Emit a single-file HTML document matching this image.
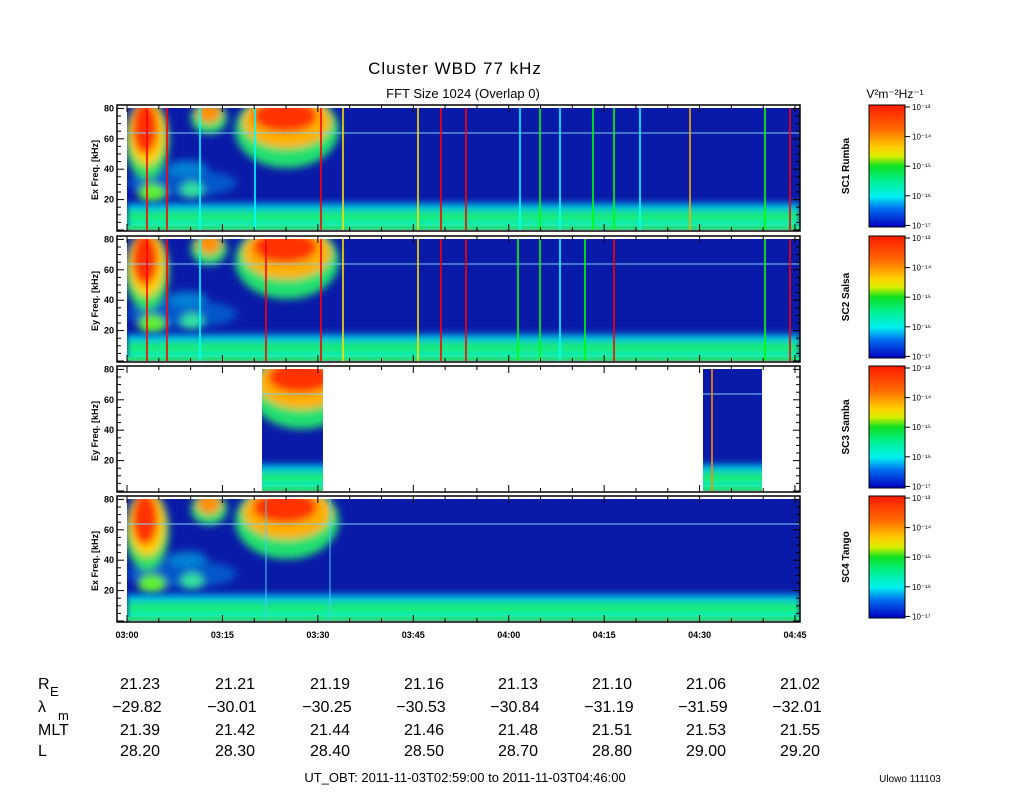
<!DOCTYPE html>
<html><head><meta charset="utf-8"><style>
body{margin:0;background:#fff;width:1024px;height:800px;overflow:hidden;font-family:"Liberation Sans",sans-serif}
svg text{font-family:"Liberation Sans",sans-serif}
</style></head><body>
<svg id="s" width="1024" height="800" xmlns="http://www.w3.org/2000/svg">
<defs>
<linearGradient id="cb" x1="0" y1="0" x2="0" y2="1">
<stop offset="0" stop-color="#ff1a00"/><stop offset="0.2" stop-color="#ff6a00"/><stop offset="0.35" stop-color="#ffd000"/><stop offset="0.42" stop-color="#d8f000"/><stop offset="0.5" stop-color="#10e020"/><stop offset="0.62" stop-color="#00f090"/><stop offset="0.75" stop-color="#00f0f0"/><stop offset="0.85" stop-color="#0070f0"/><stop offset="1" stop-color="#0000c0"/>
</linearGradient>
<linearGradient id="band" x1="0" y1="0" x2="0" y2="1">
<stop offset="0" stop-color="#0a1aa8" stop-opacity="0"/><stop offset="0.25" stop-color="#00c0f0"/><stop offset="0.55" stop-color="#20f060"/><stop offset="0.8" stop-color="#00e8d0"/><stop offset="0.95" stop-color="#40f040"/><stop offset="1" stop-color="#e0e000"/>
</linearGradient>
<filter id="bl" x="-50%" y="-50%" width="200%" height="200%"><feGaussianBlur stdDeviation="4"/></filter>
<filter id="bl2" x="-50%" y="-50%" width="200%" height="200%"><feGaussianBlur stdDeviation="3"/></filter>
<clipPath id="cp"><rect x="0" y="0" width="673" height="122"/></clipPath>
<g id="spec">
<rect x="0" y="0" width="673" height="124" fill="#0a1aa8"/>
<g filter="url(#bl)">
<ellipse cx="55" cy="75" rx="55" ry="14" fill="#0080e0" opacity="0.6"/>
<ellipse cx="25" cy="85" rx="14" ry="10" fill="#60f030"/>
<ellipse cx="65" cy="82" rx="12" ry="9" fill="#30e0a0"/>
<ellipse cx="20" cy="32" rx="22" ry="40" fill="#30e060"/>
<ellipse cx="20" cy="25" rx="18" ry="32" fill="#ffd000"/>
<ellipse cx="18" cy="20" rx="13" ry="26" fill="#ff3000"/>
<ellipse cx="82" cy="10" rx="18" ry="16" fill="#30e070"/>
<ellipse cx="82" cy="5" rx="12" ry="10" fill="#ff9000"/>
<ellipse cx="160" cy="22" rx="52" ry="38" fill="#20e070"/>
<ellipse cx="160" cy="14" rx="44" ry="26" fill="#ffb000"/>
<ellipse cx="158" cy="8" rx="32" ry="16" fill="#ff3000"/>
<ellipse cx="60" cy="60" rx="20" ry="8" fill="#00a0e0" opacity="0.7"/>
</g>
<rect x="0" y="90" width="673" height="34" fill="url(#band)" filter="url(#bl2)"/>
<rect x="0" y="118" width="673" height="3" fill="#20e080"/>
<line x1="0" y1="25" x2="673" y2="25" stroke="#7fd0f0" stroke-width="1"/>
</g>
</defs>
<text x="455" y="74" font-size="17" text-anchor="middle" letter-spacing="1">Cluster WBD 77 kHz</text>
<text x="463" y="98" font-size="13" text-anchor="middle">FFT Size 1024 (Overlap       0)</text>
<text x="895" y="98" font-size="12" text-anchor="middle">V²m⁻²Hz⁻¹</text>
<g id="panels"></g>
<g font-size="16">
<text x="38" y="689">R</text><text x="50" y="696" font-size="13">E</text>
<text x="38" y="712">λ</text><text x="58" y="720" font-size="13">m</text>
<text x="38" y="735">MLT</text><text x="38" y="756">L</text>
<g id="tab" text-anchor="middle"></g>
</g>
<text x="465" y="782" font-size="13" text-anchor="middle">UT_OBT:   2011-11-03T02:59:00     to     2011-11-03T04:46:00</text>
<text x="910" y="782" font-size="10" text-anchor="middle">Ulowo 111103</text>
</svg>
<script>
var S='http://www.w3.org/2000/svg',P=document.getElementById('panels');
function el(t,a,p){var e=document.createElementNS(S,t);for(var k in a)e.setAttribute(k,a[k]);(p||P).appendChild(e);return e;}
var tops=[108,239,369,499];
var names=['SC1 Rumba','SC2 Salsa','SC3 Samba','SC4 Tango'];
var ylab=['Ex Freq. [kHz]','Ey Freq. [kHz]','Ey Freq. [kHz]','Ex Freq. [kHz]'];
var lines=[[[147,'#f00'],[167,'#f00'],[321,'#f00'],[343,'#fd0'],[418,'#fd0'],[441,'#f00'],[466,'#f00'],[540,'#0f0'],[593,'#0f0'],[614,'#0f0'],[690,'#fa0'],[765,'#0f0'],[790,'#f00'],[200,'#0ff'],[255,'#0ff'],[520,'#0ff'],[560,'#0ff'],[640,'#0ff']],
[[147,'#f00'],[167,'#f00'],[266,'#f00'],[321,'#f00'],[343,'#fd0'],[418,'#fd0'],[441,'#f00'],[466,'#f00'],[518,'#0f0'],[540,'#0f0'],[585,'#0f0'],[614,'#f00'],[765,'#0f0'],[790,'#f00'],[200,'#0ff'],[560,'#0ff']],
[[712,'#f80']],
[[266,'#4cf'],[330,'#4cf']]];
var sup=['\u207B\u00B9\u00B3','\u207B\u00B9\u2074','\u207B\u00B9\u2075','\u207B\u00B9\u2076','\u207B\u00B9\u2077'];
tops.forEach(function(t,i){
 var g=el('g',{transform:'translate(127,'+t+')','clip-path':'url(#cp)'});
 if(i!=2){el('use',{href:'#spec'},g);}
 else{[[135,61],[576,59]].forEach(function(b){var c=el('svg',{x:b[0],y:0,width:b[1],height:124,viewBox:(b[0]==135?'120 0 61 124':'600 0 59 124'),preserveAspectRatio:'none'},g);el('use',{href:'#spec'},c);});}
 lines[i].forEach(function(l){el('line',{x1:l[0]-127,y1:0,x2:l[0]-127,y2:124,stroke:l[1],'stroke-width':(i==3?1:1.6)},g);});
 el('rect',{x:117,y:t-3,width:683,height:126,fill:'none',stroke:'#000','stroke-width':1.5});
 for(var f=0;f<=80;f+=5){var y=t+122-f*1.52;var L=f%20==0?7:4;el('line',{x1:117,y1:y,x2:117+L,y2:y,stroke:'#000'});el('line',{x1:800,y1:y,x2:800-L,y2:y,stroke:'#000'});
  if(f%20==0&&f>0){var tx=el('text',{x:114,y:y+3,'font-size':9,'text-anchor':'end','font-weight':'bold'});tx.textContent=f;}}
 for(var m=0;m<=105;m+=5){var x=127+m*6.362;var L=m%15==0?7:4;el('line',{x1:x,y1:t-3,x2:x,y2:t-3+L,stroke:'#000'});el('line',{x1:x,y1:t+123,x2:x,y2:t+123-L,stroke:'#000'});}
 var yl=el('text',{x:0,y:0,'font-size':9,'text-anchor':'middle','font-weight':'bold',transform:'translate(98,'+(t+62)+') rotate(-90)'});yl.textContent=ylab[i];
 el('rect',{x:869,y:t-3,width:36,height:122,fill:'url(#cb)',stroke:'#000'});
 for(var k=0;k<5;k++){var y=t-1+k*29.6;el('line',{x1:905,y1:y,x2:910,y2:y,stroke:'#000'});var tx=el('text',{x:912,y:y+3,'font-size':8});tx.textContent='10'+sup[k];}
 var nl=el('text',{x:0,y:0,'font-size':10,'text-anchor':'middle','font-weight':'bold',transform:'translate(849,'+(t+58)+') rotate(-90)'});nl.textContent=names[i];
});
var tl=['03:00','03:15','03:30','03:45','04:00','04:15','04:30','04:45'];
tl.forEach(function(s,i){var tx=el('text',{x:127+i*95.43,y:638,'font-size':9,'text-anchor':'middle','font-weight':'bold'});tx.textContent=s;});
var rows=[['21.23','21.21','21.19','21.16','21.13','21.10','21.06','21.02'],['\u221229.82','\u221230.01','\u221230.25','\u221230.53','\u221230.84','\u221231.19','\u221231.59','\u221232.01'],['21.39','21.42','21.44','21.46','21.48','21.51','21.53','21.55'],['28.20','28.30','28.40','28.50','28.70','28.80','29.00','29.20']];
var ry=[689,712,735,756],cx=[140,235,330,424,518,612,706,800],T=document.getElementById('tab');
rows.forEach(function(r,j){r.forEach(function(v,i){var tx=el('text',{x:cx[i]-(j==1?3:0),y:ry[j]},T);tx.textContent=v;});});
</script>
</body></html>
